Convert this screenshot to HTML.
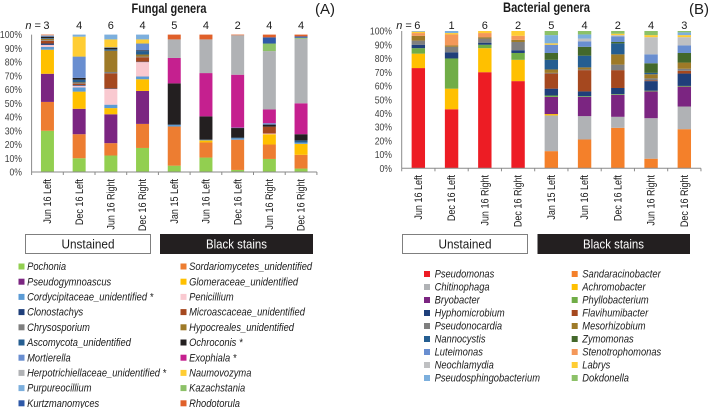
<!DOCTYPE html>
<html lang="en">
<head>
<meta charset="utf-8">
<title>Fungal and bacterial genera stacked bar charts</title>
<style>
html,body{margin:0;padding:0;background:#fff;width:709px;height:408px;overflow:hidden}
svg{display:block;filter:blur(.35px)}
text{font-family:"Liberation Sans",sans-serif;fill:#1c1c1c}
</style>
</head>
<body>
<svg id="figure" width="709" height="408" viewBox="0 0 709 408" xmlns="http://www.w3.org/2000/svg">
  <text class="fit" data-fit="75" x="131.5" y="13" font-size="13.5" font-weight="bold">Fungal genera</text>
  <text x="315" y="14" font-size="15">(A)</text>
  <text class="fit" data-fit="87" x="503" y="12" font-size="13.5" font-weight="bold">Bacterial genera</text>
  <text x="689" y="14" font-size="15">(B)</text>

  <g id="chart-a"></g>
  <g id="chart-b"></g>

  <g>
    <rect x="25.5" y="234.5" width="125" height="19" fill="#fff" stroke="#7f7f7f" stroke-width="1"/>
    <text class="fit" data-fit="53" x="88" y="248.3" font-size="13" text-anchor="middle">Unstained</text>
  </g>
  <g>
    <rect x="160" y="234" width="153" height="20" fill="#231f20"/>
    <text class="fit" data-fit="61" x="236.5" y="248.3" font-size="13" text-anchor="middle" style="fill:#fff">Black stains</text>
  </g>
  <g>
    <rect x="402.5" y="234.5" width="125" height="19" fill="#fff" stroke="#7f7f7f" stroke-width="1"/>
    <text class="fit" data-fit="53" x="465" y="248.3" font-size="13" text-anchor="middle">Unstained</text>
  </g>
  <g>
    <rect x="537.5" y="234" width="152.5" height="20" fill="#231f20"/>
    <text class="fit" data-fit="61" x="613.5" y="248.3" font-size="13" text-anchor="middle" style="fill:#fff">Black stains</text>
  </g>

  <g id="legend-a"></g>
  <g id="legend-b"></g>
</svg>

<script>
// ---- shared data ----
const categories = ['Jun 16 Left','Dec 16 Left','Jun 16 Right','Dec 16 Right','Jan 15 Left','Jun 16 Left','Dec 16 Left','Jun 16 Right','Dec 16 Right'];
const yTicks = [0,10,20,30,40,50,60,70,80,90,100];

// ---- fungal data ----
const fungalGenera = ['Pochonia','Sordariomycetes_unidentified','Pseudogymnoascus','Glomeraceae_unidentified','Cordycipitaceae_unidentified *','Penicillium','Clonostachys','Microascaceae_unidentified','Chrysosporium','Hypocreales_unidentified','Ascomycota_unidentified','Ochroconis *','Mortierella','Exophiala *','Herpotrichiellaceae_unidentified *','Naumovozyma','Purpureocillium','Kazachstania','Kurtzmanomyces','Rhodotorula'];
const fungalColors = ['#92cf50','#ed7d31','#7b2581','#ffc000','#5b9bd5','#f9c9d0','#1f3f7a','#a5481f','#7f7f7f','#9e7a28','#255e91','#231f20','#698ed0','#c5208f','#b0b2b5','#ffcd33','#7cafdd','#8cc168','#2e59a8','#e0602a'];
const fungalN = [3,4,6,4,5,4,2,4,4];
const fungalBar1 = [30,21,20.5,17.5,2,1.5,1,2,.5,1,.5,1,.5,0,.2,0,.3,0,0,.5];
const fungalBar2 = [10,17.5,18.5,12.5,3,1.3,.5,1,.5,.4,2,1.3,15.5,0,0,14.5,1.5,0,0,0];
const fungalBar3 = [12,9,21,4.5,2.5,11.5,.3,11,1,15.5,1,1.2,.3,0,0,5.7,3.5,0,0,0];
const fungalBar4 = [17.5,17.5,24,8.5,2,10.5,.3,3.2,.5,1.5,2.5,.5,5,0,0,3,3.5,0,0,0];
const fungalBar5 = [4.6,28.5,0,0,1.2,0,0,0,0,0,.2,30,0,18.5,13.5,0,0,0,0,3.5];
const fungalBar6 = [10.5,11,0,1.5,.5,0,0,0,0,0,0,17,0,31.5,24.5,0,0,0,0,3.5];
const fungalBar7 = [1.5,22,0,0,1,0,0,0,0,0,.5,7,.3,38.5,28.7,0,0,0,0,.5];
const fungalBar8 = [9.5,10.5,0,7.5,0,.5,0,5,0,0,0,1.5,1,10,42.5,0,0,5.5,4.5,2];
const fungalBar9 = [2.5,10,0,8,1,0,0,0,0,0,1.5,4.5,0,22.5,47,0,0,.7,1,1.3];
const fungalBars = [fungalBar1,fungalBar2,fungalBar3,fungalBar4,fungalBar5,fungalBar6,fungalBar7,fungalBar8,fungalBar9];

// ---- bacterial data ----
const bacterialGenera = ['Pseudomonas','Sandaracinobacter','Chitinophaga','Achromobacter','Bryobacter','Phyllobacterium','Hyphomicrobium','Flavihumibacter','Pseudonocardia','Mesorhizobium','Nannocystis','Zymomonas','Luteimonas','Stenotrophomonas','Neochlamydia','Labrys','Pseudosphingobacterium','Dokdonella'];
const bacterialColors = ['#ed1c24','#f4802a','#b0b2b5','#ffc000','#7b2581','#70ad47','#1f3f7a','#a5481f','#7f7f7f','#9e7a28','#255e91','#43682b','#698ed0','#f4985a','#bfc0c2','#ffcd33','#7cafdd','#8cc168'];
const bacterialN = [6,1,6,2,5,4,2,4,3];
const bacterialBar1 = [73,0,0,10.5,0,4,2.5,0,3,3.5,0,0,0,2,0,1,.5,0];
const bacterialBar2 = [43,0,0,15,0,22,4.5,0,4,1,0,0,0,8,0,1,1.5,0];
const bacterialBar3 = [70,0,0,17.5,0,2.5,1.5,0,3,1,0,0,0,3,0,1.5,0,0];
const bacterialBar4 = [63.5,0,0,15.5,0,5,2,0,6,1.5,0,0,0,3,0,3.5,0,0];
const bacterialBar5 = [0,12.5,26,1,12.5,1,5,11,.5,2.5,7,5,6,0,0,1,6,3];
const bacterialBar6 = [0,21,17,0,14,.5,3.5,15.5,.5,1.5,8.5,6.5,4,0,2,0,3,2.5];
const bacterialBar7 = [0,29.5,8,0,16,.5,4.5,13,4,7.5,8,1,4,0,1,1,0,2];
const bacterialBar8 = [0,7,29.5,0,19.5,.5,7,.5,1.5,3,1,7,6.5,0,12.5,1.5,0,3];
const bacterialBar9 = [0,28.5,16.5,0,14.5,.5,9,2,1.5,4.5,0,7,5.5,0,6,1.5,2,1];
const bacterialBars = [bacterialBar1,bacterialBar2,bacterialBar3,bacterialBar4,bacterialBar5,bacterialBar6,bacterialBar7,bacterialBar8,bacterialBar9];

const NS = 'http://www.w3.org/2000/svg';

function make(parent, tag, attrs, txt) {
  const el = document.createElementNS(NS, tag);
  for (const k in attrs) el.setAttribute(k, attrs[k]);
  if (txt !== undefined) el.textContent = txt;
  parent.appendChild(el);
  return el;
}

function condense(el, k) {
  el.setAttribute('textLength', (el.getComputedTextLength() * k).toFixed(1));
  el.setAttribute('lengthAdjust', 'spacingAndGlyphs');
}

function drawChart(rootId, prefix, geo, bars, colors, genera, counts) {
  const root = document.getElementById(rootId);
  const xScale = function (i) { return geo.x0 + geo.band * (i + 0.5); };
  const yScale = function (v) { return geo.y0 - (geo.y0 - geo.y100) * v / 100; };
  const xEnd = geo.x0 + geo.band * categories.length;

  bars.forEach(function (values, c) {
    let cum = 0;
    values.forEach(function (v, s) {
      if (v <= 0) return;
      const top = yScale(cum + v);
      const bottom = yScale(cum);
      const seg = make(root, 'rect', {
        x: xScale(c) - geo.barW / 2, y: top,
        width: geo.barW, height: bottom - top, fill: colors[s]
      });
      
      
      cum += v;
    });
  });

  const yAxis = make(root, 'line', { x1: geo.x0, x2: geo.x0, y1: yScale(100), y2: geo.y0, stroke: '#8a8a8a', 'stroke-width': 1 });
  
  

  const xAxis = make(root, 'line', { x1: geo.x0, x2: xEnd, y1: geo.y0, y2: geo.y0, stroke: '#8a8a8a', 'stroke-width': 1 });
  
  

  for (let i = 0; i <= categories.length; i++) {
    const tx = geo.x0 + geo.band * i;
    const tick = make(root, 'line', { x1: tx, x2: tx, y1: geo.y0, y2: geo.y0 + 3, stroke: '#8a8a8a', 'stroke-width': 1 });
    
    
  }

  yTicks.forEach(function (t) {
    const lab = make(root, 'text', { x: geo.yLabelX, y: yScale(t) + 3.6, 'font-size': 10.4, 'text-anchor': 'end' }, t + '%');
    lab.style.fill = '#404040';
    
    
    condense(lab, 0.83);
  });

  categories.forEach(function (cat, i) {
    const cx = xScale(i) + 3.6;
    const lab = make(root, 'text', { 'font-size': 10.6, 'text-anchor': 'end', transform: 'translate(' + cx + ',' + geo.catTop + ') rotate(-90)' }, cat);
    
    
    condense(lab, 0.85);
  });

  counts.forEach(function (n, i) {
    const x = xScale(i) + (i === 0 ? -1 : 0);
    const lab = make(root, 'text', { x: x, y: 29, 'font-size': 11, 'text-anchor': 'middle' }, String(n));
    
    
    if (i === 0) {
      const pre = make(root, 'text', { x: x - 5.5, y: 29, 'font-size': 11, 'text-anchor': 'end' });
      
      
      const nm = make(pre, 'tspan', { 'font-style': 'italic' }, 'n');
      
      
      const eq = make(pre, 'tspan', {}, ' =');
      
      
    }
  });
}

function drawLegend(rootId, prefix, geo, genera, colors) {
  const root = document.getElementById(rootId);
  genera.forEach(function (name, i) {
    const col = i % 2;
    const row = Math.floor(i / 2);
    const sx = col === 0 ? geo.swatchL : geo.swatchR;
    const cy = geo.y + geo.step * row;
    const item = make(root, 'g', {});
    
    
    const sw = make(item, 'rect', { x: sx, y: cy - 3, width: 6, height: 6, fill: colors[i] });
    
    
    const lab = make(item, 'text', { x: sx + geo.textGap, y: cy + 3.6, 'font-size': 10.8, 'font-style': 'italic' }, name);
    
    
    condense(lab, geo.squeeze);
  });
}

drawChart('chart-a', 'fungal',
  { x0: 31.6, band: 31.7, y0: 172, y100: 34.6, barW: 13, yLabelX: 22, catTop: 179 },
  fungalBars, fungalColors, fungalGenera, fungalN);

drawChart('chart-b', 'bacterial',
  { x0: 401.7, band: 33.25, y0: 168.3, y100: 31, barW: 13.4, yLabelX: 392, catTop: 175 },
  bacterialBars, bacterialColors, bacterialGenera, bacterialN);

drawLegend('legend-a', 'fungal',
  { swatchL: 18.5, swatchR: 180.5, y: 266.5, step: 15.2, textGap: 8.6, squeeze: 0.865 },
  fungalGenera, fungalColors);

drawLegend('legend-b', 'bacterial',
  { swatchL: 424, swatchR: 571.7, y: 274, step: 13, textGap: 10.6, squeeze: 0.865 },
  bacterialGenera, bacterialColors);

document.querySelectorAll('text.fit').forEach(function (t) {
  t.setAttribute('textLength', t.getAttribute('data-fit'));
  t.setAttribute('lengthAdjust', 'spacingAndGlyphs');
});
</script>
</body>
</html>
